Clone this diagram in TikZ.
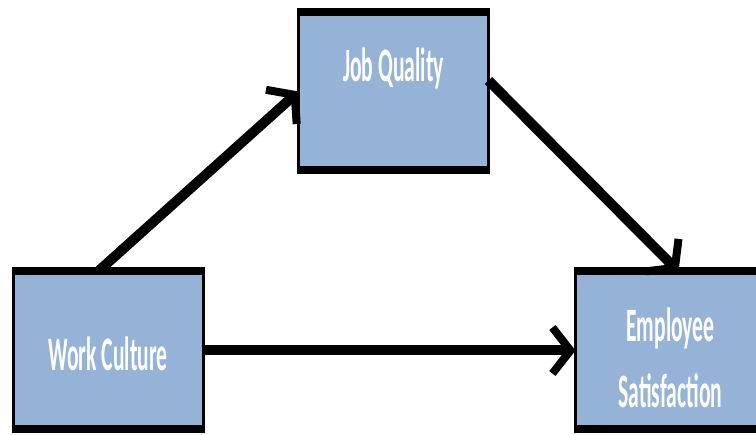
\documentclass[tikz,border=0pt]{standalone}
\usepackage{fontspec}
\newfontfamily\boxfont{Carlito}[FakeStretch=0.45]
\usepackage{tikz}
\usetikzlibrary{arrows.meta}
\usetikzlibrary{positioning}
\definecolor{boxblue}{RGB}{149,179,215}

\begin{document}
\begin{tikzpicture}[x=1pt, y=1pt, ->, >={Straight Barb[length=18pt,width=46pt,line width=8pt]}, line width=10pt,
    factor/.style={draw, fill=boxblue, line width=3pt, outer sep=0pt, inner sep=0pt,
      minimum width=190pt, minimum height=158pt, align=center, text=white,
      font=\boxfont\bfseries\fontsize{48}{66}\selectfont},
    bar/.style={-, line width=8pt, shorten <=-1.5pt, shorten >=-1.5pt}]

    \path[use as bounding box, clip] (0,0) rectangle (756,435);

    % Nodes
    \node[factor, text height=41pt, text depth=0pt] at (108,84.5) (culture) {Work Culture};
    \node[factor, text height=33pt, text depth=52pt, above right=101pt and 95.5pt of culture] (quality) {Job Quality};
    \node[factor, text height=115pt, text depth=0pt, right=372.5pt of culture] (satisf) {Employee\\Satisfaction};

    % Heavy top and bottom edges
    \foreach \n in {culture,quality,satisf} {
      \draw[bar] (\n.north west) -- (\n.north east);
      \draw[bar] (\n.south west) -- (\n.south east);
    }

    % Edges
    \draw ([xshift=-10pt]culture.north) -- (quality.west);
    \draw ([yshift=11pt]quality.east) -- ([xshift=8pt]satisf.north);
    \draw (culture) -- (satisf);

\end{tikzpicture}
\end{document}
